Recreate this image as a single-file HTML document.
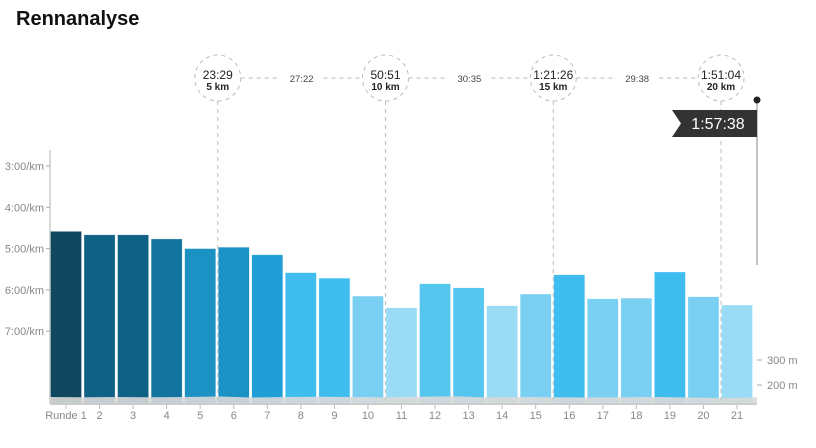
<!DOCTYPE html>
<html><head><meta charset="utf-8"><style>
body{margin:0;background:#fff;font-family:"Liberation Sans",sans-serif;}
#wrap{position:relative;width:816px;height:448px;overflow:hidden;}
h1{position:absolute;left:16px;top:8px;margin:0;font-size:20px;font-weight:bold;color:#111;}
</style></head><body>
<div id="wrap">
<h1>Rennanalyse</h1>
<svg id="chart" width="816" height="448" style="position:absolute;left:0;top:0"></svg>
</div>
<script>
const laps=["Runde 1","2","3","4","5","6","7","8","9","10","11","12","13","14","15","16","17","18","19","20","21"];
const paceSec=[275,280,280,286,300,298,309,335,343,369,386,351,357,383,366,338,373,372,334,370,382];
const paceTicks=[180,240,300,360,420];
const paceTickLabels=["3:00/km","4:00/km","5:00/km","6:00/km","7:00/km"];
const elevation=[152,151,152,151,152,154,150,152,153,152,151,153,155,150,152,151,150,151,152,150,148,150];
const elevTicks=[200,300];
const splitTimes=["23:29","50:51","1:21:26","1:51:04"];
const splitKm=["5 km","10 km","15 km","20 km"];
const splitKmPos=[5,10,15,20];
const splitDiffs=["27:22","30:35","29:38"];
const finishTime="1:57:38";

const NS="http://www.w3.org/2000/svg";
const svg=document.getElementById('chart');
function el(t,a,p){const e=document.createElementNS(NS,t);for(const k in a)e.setAttribute(k,a[k]);(p||svg).appendChild(e);return e;}
const x0=50,step=33.55,baseY=403;
const xC=i=>66+i*step;
const yP=s=>166+(s-180)*41.3/60;
const yE=m=>385-(m-200)*0.25;
const xKm=k=>x0+k*step;
function color(s){
 if(s<278)return"#0f4760";if(s<284)return"#106186";if(s<292)return"#1474a0";
 if(s<304)return"#1b91c4";if(s<320)return"#209fd6";if(s<348)return"#3fbdee";
 if(s<362)return"#55c6f0";if(s<378)return"#79d0f3";return"#9adcf5";}
// left axis
let a=el('line',{x1:x0,y1:150,x2:x0,y2:404,stroke:'#ccc','stroke-width':1.5});

paceTicks.forEach((t,i)=>{
 const y=yP(t);
 let l=el('line',{x1:x0-4,y1:y,x2:x0,y2:y,stroke:'#aaa'});
 
 let tx=el('text',{x:x0-6,y:y+4,'text-anchor':'end','font-size':11,fill:'#888'});tx.textContent=paceTickLabels[i];
 
});
// bars
paceSec.forEach((s,i)=>{
 const y=yP(s);
 let r=el('rect',{x:xC(i)-15.5,y:y,width:31,height:baseY-y,fill:color(s),stroke:'#fff','stroke-opacity':0.5,'stroke-width':0.5});
 
 let tk=el('line',{x1:xC(i),y1:405,x2:xC(i),y2:409,stroke:'#bbb'});
 
 let tx=el('text',{x:xC(i),y:419,'text-anchor':'middle','font-size':11,fill:'#888'});tx.textContent=laps[i];
 
});
// elevation area
let d='M'+x0+','+baseY;
elevation.forEach((m,i)=>{d+=' L'+(x0+i*(757-x0)/(elevation.length-1))+','+yE(m);});
d+=' L757,'+baseY+' Z';
let ar=el('path',{d:d,fill:'#d9d9d9',opacity:0.9});

let bx=el('line',{x1:x0,y1:404,x2:757,y2:404,stroke:'#ccc','stroke-width':2});

// right axis
elevTicks.forEach(m=>{
 const y=yE(m);
 let l=el('line',{x1:757,y1:y,x2:762,y2:y,stroke:'#aaa'});
 
 let t=el('text',{x:767,y:y+4,'font-size':11,fill:'#888'});t.textContent=m+' m';
 
});
// splits
const cy=78,R=23;
splitKmPos.forEach((k,i)=>{
 const cx=xKm(k);
 let v=el('line',{x1:cx,y1:cy+R,x2:cx,y2:404,stroke:'#bbb','stroke-dasharray':'4,4'});
 
 let c=el('circle',{cx:cx,cy:cy,r:R,fill:'#fff',stroke:'#bbb','stroke-dasharray':'4,4'});
 
 let t1=el('text',{x:cx,y:cy+1,'text-anchor':'middle','font-size':12,fill:'#222'});t1.textContent=splitTimes[i];
 
 let t2=el('text',{x:cx,y:cy+12,'text-anchor':'middle','font-size':10,'font-weight':'bold',fill:'#222'});t2.textContent=splitKm[i];
 
 if(i<splitDiffs.length){
  const nx=xKm(splitKmPos[i+1]),mx=(cx+nx)/2;
  let h1=el('line',{x1:cx+R,y1:cy,x2:mx-22,y2:cy,stroke:'#bbb','stroke-dasharray':'4,4'});
  
  let h2=el('line',{x1:mx+22,y1:cy,x2:nx-R,y2:cy,stroke:'#bbb','stroke-dasharray':'4,4'});
  
  let dt=el('text',{x:mx,y:cy+4,'text-anchor':'middle','font-size':9.5,fill:'#444'});dt.textContent=splitDiffs[i];
  
 }
});
// finish flag
let pole=el('line',{x1:757,y1:100,x2:757,y2:265,stroke:'#999','stroke-width':1.2});

let dot=el('circle',{cx:757,cy:100,r:3.5,fill:'#222'});

let fl=el('path',{d:'M757,110 L672,110 L681,123.5 L672,137 L757,137 Z',fill:'#333'});

let ft=el('text',{x:718,y:129,'text-anchor':'middle','font-size':16,fill:'#fff'});ft.textContent=finishTime;

</script>
</body></html>
